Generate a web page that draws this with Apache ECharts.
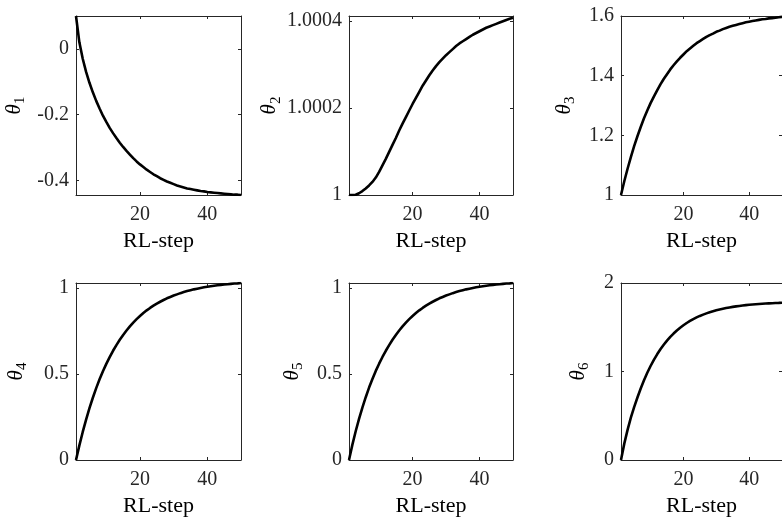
<!DOCTYPE html>
<html>
<head>
<meta charset="utf-8">
<script src="https://cdn.jsdelivr.net/npm/echarts@6.0.0/dist/echarts.min.js"></script>
<style>
html, body { margin: 0; padding: 0; background: #fff; }
#chart { width: 782px; height: 518px; }
</style>
</head>
<body>
<div id="chart"></div>
<script>
// RL-step axis
var steps = [1,2,3,4,5,6,7,8,9,10,11,12,13,14,15,16,17,18,19,20,
    21,22,23,24,25,26,27,28,29,30,31,32,33,34,35,36,37,38,39,40,
    41,42,43,44,45,46,47,48,49,50];
var xTicks = [20, 40];

// theta_1 .. theta_6
var theta1 = [0.100,0.020,-0.030,-0.070,-0.103,-0.132,-0.158,-0.181,-0.203,-0.222,
    -0.240,-0.256,-0.271,-0.285,-0.298,-0.310,-0.321,-0.332,-0.342,-0.351,
    -0.359,-0.367,-0.374,-0.381,-0.387,-0.393,-0.398,-0.403,-0.407,-0.411,
    -0.415,-0.418,-0.421,-0.424,-0.426,-0.428,-0.430,-0.432,-0.433,-0.435,
    -0.436,-0.437,-0.438,-0.439,-0.440,-0.441,-0.442,-0.443,-0.443,-0.444];
var theta2 = [1.0000000,1.0000000,1.0000005,1.0000040,1.0000090,1.0000150,1.0000220,1.0000300,1.0000400,1.0000530,
    1.0000680,1.0000830,1.0000990,1.0001150,1.0001310,1.0001480,1.0001640,1.0001790,1.0001940,1.0002090,
    1.0002230,1.0002370,1.0002510,1.0002630,1.0002750,1.0002860,1.0002960,1.0003050,1.0003130,1.0003210,
    1.0003280,1.0003350,1.0003420,1.0003480,1.0003530,1.0003580,1.0003630,1.0003680,1.0003720,1.0003760,
    1.0003800,1.0003840,1.0003870,1.0003900,1.0003930,1.0003960,1.0003990,1.0004020,1.0004045,1.0004070];
var theta3 = [1.000,1.046,1.088,1.127,1.164,1.197,1.228,1.257,1.283,1.308,
    1.330,1.351,1.371,1.389,1.405,1.421,1.435,1.448,1.460,1.471,
    1.482,1.491,1.500,1.509,1.516,1.523,1.530,1.536,1.541,1.547,
    1.551,1.556,1.560,1.564,1.567,1.570,1.573,1.576,1.579,1.581,
    1.583,1.585,1.587,1.589,1.590,1.592,1.593,1.594,1.596,1.597];
var theta4 = [0.000,0.085,0.163,0.235,0.301,0.362,0.418,0.469,0.516,0.559,
    0.598,0.635,0.668,0.699,0.727,0.753,0.777,0.799,0.819,0.837,
    0.854,0.870,0.884,0.897,0.909,0.920,0.930,0.940,0.948,0.956,
    0.963,0.970,0.976,0.982,0.987,0.992,0.996,1.000,1.004,1.007,
    1.010,1.013,1.016,1.018,1.020,1.022,1.024,1.026,1.027,1.029];
var theta5 = [0.000,0.088,0.167,0.239,0.305,0.365,0.421,0.471,0.518,0.560,
    0.599,0.635,0.668,0.699,0.727,0.753,0.777,0.799,0.819,0.837,
    0.854,0.870,0.884,0.897,0.909,0.920,0.930,0.940,0.948,0.956,
    0.963,0.970,0.976,0.982,0.987,0.992,0.996,1.000,1.004,1.007,
    1.010,1.013,1.016,1.018,1.020,1.022,1.024,1.026,1.027,1.029];
var theta6 = [0.000,0.185,0.340,0.478,0.598,0.706,0.808,0.901,0.986,1.062,
    1.132,1.194,1.251,1.302,1.349,1.391,1.429,1.463,1.494,1.522,
    1.548,1.571,1.592,1.611,1.628,1.643,1.657,1.670,1.681,1.692,
    1.701,1.709,1.717,1.724,1.730,1.736,1.741,1.746,1.750,1.754,
    1.757,1.760,1.763,1.766,1.768,1.770,1.772,1.774,1.775,1.777];

// y tick values and limits
var yTicks1 = [-0.4, -0.2, 0];
var yTicks2 = [1, 1.0002, 1.0004];
var yTicks3 = [1, 1.2, 1.4, 1.6];
var yTicks4 = [0, 0.5, 1];
var yTicks5 = [0, 0.5, 1];
var yTicks6 = [0, 1, 2];
var yRange1 = [-0.444, 0.1];
var yRange2 = [1, 1.000411];
var yRange3 = [1, 1.6];
var yRange4 = [0, 1.029];
var yRange5 = [0, 1.029];
var yRange6 = [0, 2];

var font = '"Liberation Serif", "Times New Roman", serif';
var boxColor = '#262626';

var panels = [
    {data: theta1, ticks: yTicks1, range: yRange1, sub: '1', left: 76,  top: 16,  width: 165, height: 179, gap: 48},
    {data: theta2, ticks: yTicks2, range: yRange2, sub: '2', left: 349, top: 16,  width: 164, height: 179, gap: 64},
    {data: theta3, ticks: yTicks3, range: yRange3, sub: '3', left: 621, top: 16,  width: 164, height: 179, gap: 43},
    {data: theta4, ticks: yTicks4, range: yRange4, sub: '4', left: 76,  top: 283, width: 165, height: 178, gap: 46},
    {data: theta5, ticks: yTicks5, range: yRange5, sub: '5', left: 349, top: 283, width: 164, height: 178, gap: 43},
    {data: theta6, ticks: yTicks6, range: yRange6, sub: '6', left: 621, top: 283, width: 164, height: 178, gap: 29}
];

var option = {
    animation: false,
    grid: [],
    xAxis: [],
    yAxis: [],
    series: []
};

function tick(values) {
    return {show: true, inside: true, length: 3, customValues: values,
        lineStyle: {color: boxColor, width: 1}};
}
var line = {show: true, onZero: false, lineStyle: {color: boxColor, width: 1}};

panels.forEach(function (p, i) {
    option.grid.push({left: p.left, top: p.top, width: p.width, height: p.height});

    // bottom + top (mirror) x axes
    option.xAxis.push({
        type: 'value', gridIndex: i, position: 'bottom', min: 1, max: 50,
        axisLine: line, axisTick: tick(xTicks), splitLine: {show: false},
        axisLabel: {customValues: xTicks, margin: 10, color: boxColor,
            fontFamily: font, fontSize: 20},
        name: 'RL-step', nameLocation: 'middle', nameGap: 35,
        nameTextStyle: {color: '#000', fontFamily: font, fontSize: 22}
    });
    option.xAxis.push({
        type: 'value', gridIndex: i, position: 'top', min: 1, max: 50,
        axisLine: line, axisTick: tick(xTicks), splitLine: {show: false},
        axisLabel: {show: false}
    });

    // left + right (mirror) y axes
    option.yAxis.push({
        type: 'value', gridIndex: i, position: 'left', min: p.range[0], max: p.range[1],
        axisLine: line, axisTick: tick(p.ticks), splitLine: {show: false},
        axisLabel: {customValues: p.ticks, margin: 7, color: boxColor,
            fontFamily: font, fontSize: 20,
            formatter: function (v) { return String(v); }},
        name: '{t|θ}{s|' + p.sub + '}', nameLocation: 'middle', nameRotate: 90, nameGap: p.gap,
        nameTextStyle: {
            rich: {
                t: {fontFamily: font, fontStyle: 'italic', fontSize: 21, color: '#000',
                    lineHeight: 24, verticalAlign: 'top'},
                s: {fontFamily: font, fontSize: 15, color: '#000',
                    lineHeight: 15, verticalAlign: 'bottom'}
            }
        }
    });
    option.yAxis.push({
        type: 'value', gridIndex: i, position: 'right', min: p.range[0], max: p.range[1],
        axisLine: line, axisTick: tick(p.ticks), splitLine: {show: false},
        axisLabel: {show: false}
    });

    option.series.push({
        type: 'line', xAxisIndex: 2 * i, yAxisIndex: 2 * i,
        data: steps.map(function (s, k) { return [s, p.data[k]]; }),
        showSymbol: false, silent: true,
        lineStyle: {color: '#000', width: 2.6}
    });
});

var myChart = echarts.init(document.getElementById('chart'));
myChart.setOption(option);
</script>
</body>
</html>
